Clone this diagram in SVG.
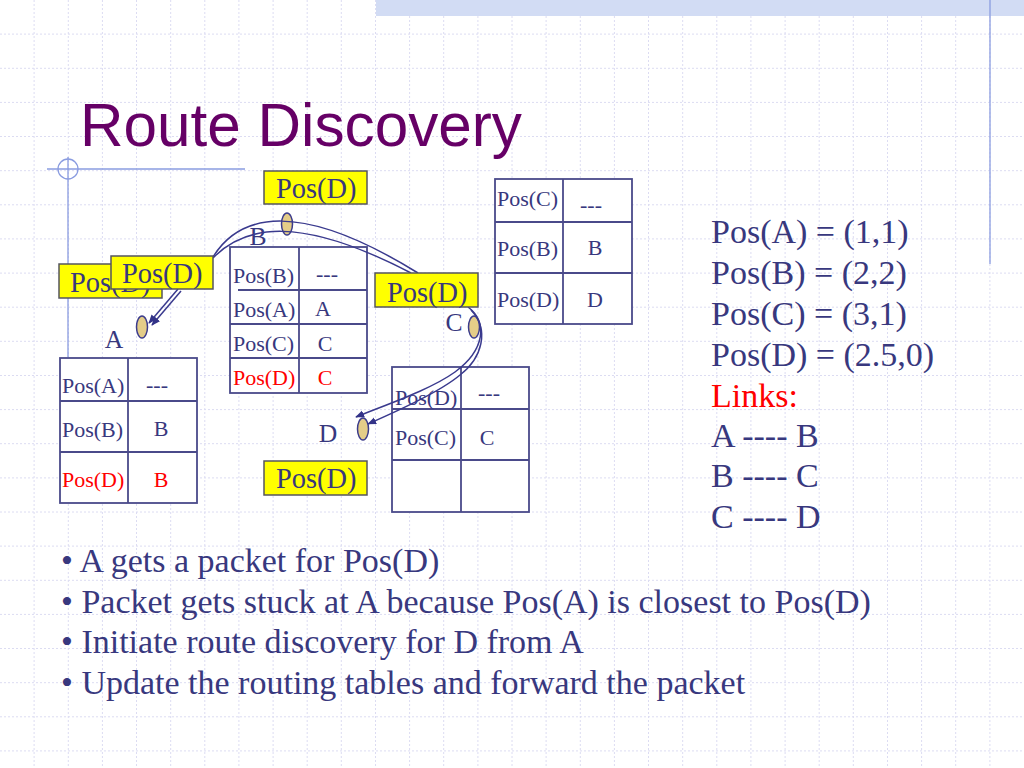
<svg xmlns="http://www.w3.org/2000/svg" width="1024" height="768" viewBox="0 0 1024 768">
<style>
.grid{stroke:#dcdcf2;stroke-width:1;stroke-dasharray:2,2;fill:none}
.deco{stroke:#8a9ce0;stroke-width:1.3;fill:none}
.tbl{fill:#ffffff;stroke:#4a4a8a;stroke-width:1.8}
.tl{stroke:#4a4a8a;stroke-width:1.8}
.t{font-family:"Liberation Serif","Times New Roman",serif;fill:#38387e}
.cell{font-size:22px}
.red{fill:#ff0000}
.mid{text-anchor:middle}
.lbl{font-size:25.6px}
.node{fill:#e4cd88;stroke:#3c3c8c;stroke-width:1.5}
.pkt{fill:#ffff00;stroke:#55555f;stroke-width:1.5}
.ptxt{font-size:28.4px}
.con{fill:none;stroke:#3a3a8e;stroke-width:1.5}
.big{font-size:34px}
</style>
<defs>
<marker id="ah" viewBox="0 0 10 10" refX="9" refY="5" markerWidth="9" markerHeight="9" markerUnits="userSpaceOnUse" orient="auto">
<path d="M0,1 L10,5 L0,9 z" fill="#333388"/>
</marker>
</defs>
<rect width="1024" height="768" fill="#ffffff"/>
<path class="grid" d="M34.1,0V768M68.3,0V768M102.4,0V768M136.5,0V768M170.7,0V768M204.8,0V768M238.9,0V768M273.1,0V768M307.2,0V768M341.3,0V768M375.5,0V768M409.6,0V768M443.7,0V768M477.9,0V768M512,0V768M546.1,0V768M580.3,0V768M614.4,0V768M648.5,0V768M682.7,0V768M716.8,0V768M750.9,0V768M785.1,0V768M819.2,0V768M853.3,0V768M887.5,0V768M921.6,0V768M955.7,0V768M989.9,0V768
M0,34.1H1024M0,68.3H1024M0,102.4H1024M0,136.5H1024M0,170.7H1024M0,204.8H1024M0,238.9H1024M0,273.1H1024M0,307.2H1024M0,341.3H1024M0,375.5H1024M0,409.6H1024M0,443.7H1024M0,477.9H1024M0,512H1024M0,546.1H1024M0,580.3H1024M0,614.4H1024M0,648.5H1024M0,682.7H1024M0,716.8H1024M0,750.9H1024"/>
<g id="decor">
<rect x="376" y="0" width="648" height="16" fill="#d2dcf4"/>
<line class="deco" x1="990" y1="0" x2="990" y2="264"/>
<line class="deco" x1="47" y1="169" x2="245" y2="169"/>
<line class="deco" x1="68" y1="157" x2="68" y2="357"/>
<circle class="deco" cx="68" cy="169" r="10"/>
</g>
<text id="title" x="80" y="146" font-family="Liberation Sans,Arial,sans-serif" font-size="62" fill="#660066" textLength="442" lengthAdjust="spacingAndGlyphs">Route Discovery</text>

<g id="node-A">
<rect class="tbl" x="60" y="358" width="137" height="145"/>
<line class="tl" x1="128" y1="358" x2="128" y2="503"/>
<line class="tl" x1="60" y1="401" x2="197" y2="401"/>
<line class="tl" x1="60" y1="452" x2="197" y2="452"/>
<text class="t cell" x="62" y="393">Pos(A)</text>
<text class="t cell mid" x="157" y="392">---</text>
<text class="t cell" x="62" y="437">Pos(B)</text>
<text class="t cell mid" x="161" y="436">B</text>
<text class="t cell red" x="62" y="487">Pos(D)</text>
<text class="t cell red mid" x="161" y="487">B</text>
<text class="t lbl mid" x="114" y="348">A</text>
<ellipse class="node" cx="142" cy="327" rx="5.5" ry="11"/>
</g>

<g id="node-B">
<rect class="tbl" x="230" y="247" width="137" height="146"/>
<line class="tl" x1="299" y1="247" x2="299" y2="393"/>
<line class="tl" x1="238" y1="290" x2="367" y2="290"/>
<line class="tl" x1="230" y1="324" x2="367" y2="324"/>
<line class="tl" x1="230" y1="358" x2="367" y2="358"/>
<text class="t cell" x="233" y="283">Pos(B)</text>
<text class="t cell mid" x="327" y="281">---</text>
<text class="t cell" x="233" y="317">Pos(A)</text>
<text class="t cell mid" x="323" y="316">A</text>
<text class="t cell" x="233" y="351">Pos(C)</text>
<text class="t cell mid" x="325" y="351">C</text>
<text class="t cell red" x="233" y="385">Pos(D)</text>
<text class="t cell red mid" x="325" y="385">C</text>
<text class="t lbl mid" x="258" y="245">B</text>
<ellipse class="node" cx="287" cy="224" rx="5.5" ry="11"/>
</g>

<g id="node-C">
<rect class="tbl" x="495" y="179" width="137" height="145"/>
<line class="tl" x1="563" y1="179" x2="563" y2="324"/>
<line class="tl" x1="495" y1="222" x2="632" y2="222"/>
<line class="tl" x1="495" y1="273" x2="632" y2="273"/>
<text class="t cell" x="497" y="206">Pos(C)</text>
<text class="t cell mid" x="591" y="212">---</text>
<text class="t cell" x="497" y="256">Pos(B)</text>
<text class="t cell mid" x="595" y="255">B</text>
<text class="t cell" x="497" y="307">Pos(D)</text>
<text class="t cell mid" x="595" y="307">D</text>
<text class="t lbl mid" x="454" y="331">C</text>
<ellipse class="node" cx="474" cy="327" rx="5.5" ry="11"/>
</g>

<g id="node-D">
<rect class="tbl" x="392" y="367" width="137" height="145"/>
<line class="tl" x1="461" y1="367" x2="461" y2="512"/>
<line class="tl" x1="392" y1="409" x2="529" y2="409"/>
<line class="tl" x1="392" y1="460" x2="529" y2="460"/>
<text class="t cell" x="395" y="405">Pos(D)</text>
<text class="t cell mid" x="489" y="400">---</text>
<text class="t cell" x="395" y="445">Pos(C)</text>
<text class="t cell mid" x="487" y="445">C</text>
<text class="t lbl mid" x="328" y="442">D</text>
<ellipse class="node" cx="363" cy="429" rx="5.5" ry="11"/>
</g>

<g id="connectors">
<path class="con" d="M178,289 L149,323" marker-end="url(#ah)"/>
<path class="con" d="M181,291 L152,325" marker-end="url(#ah)"/>
<path class="con" d="M213,257 C240,213 300,200 418,273"/>
<path class="con" d="M213,258 C245,225 300,215 411,273"/>
<path class="con" d="M468,307 C488,322 485,350 455,372 C430,390 385,405 356,417" marker-end="url(#ah)"/>
<path class="con" d="M471,310 C490,330 482,358 460,375 C440,392 395,412 368,424" marker-end="url(#ah)"/>
</g>

<g id="packet-A-back">
<rect class="pkt" x="59" y="264" width="103" height="34"/>
<text class="t ptxt" x="70" y="292">Pos(D)</text>
</g>
<g id="packet-A">
<rect class="pkt" x="111" y="256" width="102" height="33"/>
<text class="t ptxt" x="122" y="283">Pos(D)</text>
</g>
<g id="packet-B">
<rect class="pkt" x="264" y="171" width="103" height="33"/>
<text class="t ptxt" x="276" y="198">Pos(D)</text>
</g>
<g id="packet-C">
<rect class="pkt" x="375" y="273" width="103" height="34"/>
<text class="t ptxt" x="387" y="302">Pos(D)</text>
</g>
<g id="packet-D">
<rect class="pkt" x="264" y="461" width="103" height="34"/>
<text class="t ptxt" x="276" y="488">Pos(D)</text>
</g>

<g id="positions">
<text class="t big" x="711" y="243">Pos(A) = (1,1)</text>
<text class="t big" x="711" y="284">Pos(B) = (2,2)</text>
<text class="t big" x="711" y="325">Pos(C) = (3,1)</text>
<text class="t big" x="711" y="366">Pos(D) = (2.5,0)</text>
<text class="t big red" x="711" y="407">Links:</text>
<text class="t big" x="711" y="447">A ---- B</text>
<text class="t big" x="711" y="487">B ---- C</text>
<text class="t big" x="711" y="528">C ---- D</text>
</g>

<g id="bullets">
<text class="t big" x="61" y="572">• A gets a packet for Pos(D)</text>
<text class="t big" x="61" y="613">• Packet gets stuck at A because Pos(A) is closest to Pos(D)</text>
<text class="t big" x="61" y="653">• Initiate route discovery for D from A</text>
<text class="t big" x="61" y="694">• Update the routing tables and forward the packet</text>
</g>
</svg>
